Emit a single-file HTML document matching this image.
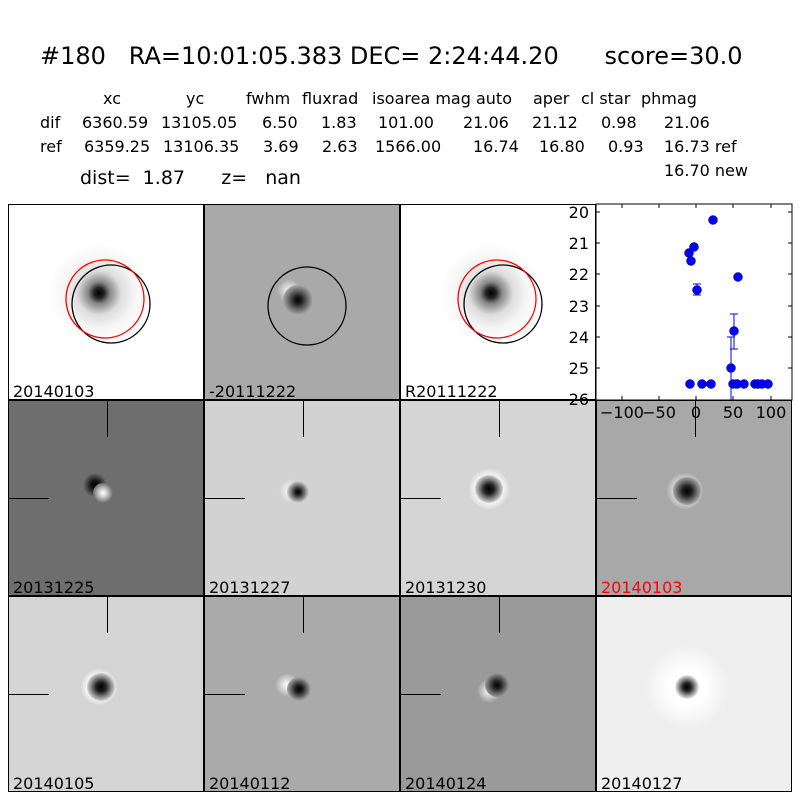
<!DOCTYPE html><html><head><style>
body{margin:0;width:800px;height:800px;background:#fff;font-family:"DejaVu Sans",sans-serif;position:relative;overflow:hidden}
.t{position:absolute;white-space:pre;color:#000;font-size:16px;line-height:18px}
.p{position:absolute;width:196px;height:196px;border:1px solid #000;box-sizing:border-box;overflow:hidden}
.lab{position:absolute;left:4px;bottom:-2px;font-size:16px}
.b{position:absolute;border-radius:50%}
.v{position:absolute;left:98px;top:0;width:1px;height:36px;background:#000}
.h{position:absolute;left:0;top:97px;width:40px;height:1px;background:#000}
</style></head><body>
<div class="t" style="left:40px;top:42px;font-size:24px;line-height:28px">#180   RA=10:01:05.383 DEC= 2:24:44.20      score=30.0</div>
<div class="t" style="left:103px;top:90px">xc</div><div class="t" style="left:186px;top:90px">yc</div><div class="t" style="left:246px;top:90px">fwhm</div><div class="t" style="left:302px;top:90px">fluxrad</div><div class="t" style="left:372px;top:90px">isoarea mag auto</div><div class="t" style="left:533px;top:90px">aper</div><div class="t" style="left:581px;top:90px">cl star</div><div class="t" style="left:641px;top:90px">phmag</div>
<div class="t" style="left:40px;top:114px">dif</div><div class="t" style="left:82px;top:114px">6360.59</div><div class="t" style="left:161px;top:114px">13105.05</div><div class="t" style="left:262px;top:114px">6.50</div><div class="t" style="left:321px;top:114px">1.83</div><div class="t" style="left:378px;top:114px">101.00</div><div class="t" style="left:463px;top:114px">21.06</div><div class="t" style="left:532px;top:114px">21.12</div><div class="t" style="left:601px;top:114px">0.98</div><div class="t" style="left:664px;top:114px">21.06</div>
<div class="t" style="left:40px;top:138px">ref</div><div class="t" style="left:84px;top:138px">6359.25</div><div class="t" style="left:163px;top:138px">13106.35</div><div class="t" style="left:263px;top:138px">3.69</div><div class="t" style="left:322px;top:138px">2.63</div><div class="t" style="left:375px;top:138px">1566.00</div><div class="t" style="left:473px;top:138px">16.74</div><div class="t" style="left:539px;top:138px">16.80</div><div class="t" style="left:608px;top:138px">0.93</div><div class="t" style="left:664px;top:138px">16.73 ref</div>
<div class="t" style="left:664px;top:162px">16.70 new</div>
<div class="t" style="left:80px;top:167px;font-size:19px;line-height:22px">dist=  1.87      z=   nan</div>

<div class="p" style="left:8px;top:204px;background:#fff"><div class="b" style="left:40px;top:38px;width:100px;height:100px;background:radial-gradient(circle,#000 0,#222 5px,#888 11px,#ddd 22px,#f6f6f6 36px,#fff 50px)"></div>
<svg width="196" height="196" style="position:absolute;left:0;top:0"><circle cx="102" cy="99" r="39" fill="none" stroke="#000" stroke-width="1.3"/><circle cx="96" cy="94" r="39" fill="none" stroke="red" stroke-width="1.3"/></svg><div class="lab">20140103</div></div>
<div class="p" style="left:204px;top:204px;background:#a9a9a9"><div class="b" style="left:72px;top:74px;width:24px;height:24px;background:radial-gradient(circle,#fafafa,#a9a9a9 70%)"></div><div class="b" style="left:78px;top:80px;width:30px;height:30px;background:radial-gradient(circle,#000 0,#222 4px,#a9a9a9 15px)"></div>
<svg width="196" height="196" style="position:absolute;left:0;top:0"><circle cx="102" cy="101" r="39" fill="none" stroke="#000" stroke-width="1.3"/></svg><div class="lab">-20111222</div></div>
<div class="p" style="left:400px;top:204px;background:#fff"><div class="b" style="left:40px;top:38px;width:100px;height:100px;background:radial-gradient(circle,#000 0,#222 5px,#888 11px,#ddd 22px,#f6f6f6 36px,#fff 50px)"></div>
<svg width="196" height="196" style="position:absolute;left:0;top:0"><circle cx="102" cy="99" r="39" fill="none" stroke="#000" stroke-width="1.3"/><circle cx="96" cy="94" r="39" fill="none" stroke="red" stroke-width="1.3"/></svg><div class="lab">R20111222</div></div>

<div class="p" style="left:8px;top:400px;background:#6e6e6e"><div class="b" style="left:74px;top:72px;width:24px;height:24px;background:radial-gradient(circle,#000 0,#111 4px,#6e6e6e 12px)"></div><div class="b" style="left:84px;top:82px;width:20px;height:20px;background:radial-gradient(circle,#fff 0,#ddd 3px,#6e6e6e 10px)"></div><div class="v"></div><div class="h"></div><div class="lab">20131225</div></div>
<div class="p" style="left:204px;top:400px;background:#d2d2d2"><div class="b" style="left:74px;top:78px;width:24px;height:24px;background:radial-gradient(circle,#fff,#d2d2d2 70%)"></div><div class="b" style="left:82px;top:80px;width:22px;height:22px;background:radial-gradient(circle,#000 0,#222 3px,#d2d2d2 11px)"></div><div class="v"></div><div class="h"></div><div class="lab">20131227</div></div>
<div class="p" style="left:400px;top:400px;background:#d5d5d5"><div class="b" style="left:68px;top:68px;width:40px;height:40px;background:radial-gradient(circle,#fff 40%,#d5d5d5 75%)"></div><div class="b" style="left:74px;top:74px;width:28px;height:28px;background:radial-gradient(circle,#000 0,#222 5px,#d5d5d5 14px)"></div><div class="v"></div><div class="h"></div><div class="lab">20131230</div></div>
<div class="p" style="left:596px;top:400px;background:#a8a8a8"><div class="b" style="left:70px;top:72px;width:36px;height:36px;background:radial-gradient(circle,#ddd 40%,#a8a8a8 75%)"></div><div class="b" style="left:76px;top:76px;width:28px;height:28px;background:radial-gradient(circle,#000 0,#222 5px,#a8a8a8 14px)"></div><div class="v"></div><div class="h"></div><div class="lab" style="color:red">20140103</div></div>

<div class="p" style="left:8px;top:596px;background:#d4d4d4"><div class="b" style="left:72px;top:72px;width:36px;height:36px;background:radial-gradient(circle,#fff 40%,#d4d4d4 75%)"></div><div class="b" style="left:78px;top:76px;width:28px;height:28px;background:radial-gradient(circle,#000 0,#222 5px,#d4d4d4 14px)"></div><div class="v"></div><div class="h"></div><div class="lab">20140105</div></div>
<div class="p" style="left:204px;top:596px;background:#aaaaaa"><div class="b" style="left:70px;top:76px;width:24px;height:24px;background:radial-gradient(circle,#fff,#aaa 70%)"></div><div class="b" style="left:82px;top:80px;width:24px;height:24px;background:radial-gradient(circle,#000 0,#222 4px,#aaa 12px)"></div><div class="v"></div><div class="h"></div><div class="lab">20140112</div></div>
<div class="p" style="left:400px;top:596px;background:#9a9a9a"><div class="b" style="left:76px;top:82px;width:24px;height:24px;background:radial-gradient(circle,#fff,#9a9a9a 70%)"></div><div class="b" style="left:84px;top:76px;width:24px;height:24px;background:radial-gradient(circle,#000 0,#222 4px,#9a9a9a 12px)"></div><div class="v"></div><div class="h"></div><div class="lab">20140124</div></div>
<div class="p" style="left:596px;top:596px;background:#efefef"><div class="b" style="left:48px;top:48px;width:84px;height:84px;background:radial-gradient(circle,#fff 30%,#efefef 70%)"></div><div class="b" style="left:78px;top:78px;width:24px;height:24px;background:radial-gradient(circle,#000 0,#222 4px,#efefef 12px)"></div><div class="lab">20140127</div></div>

<svg width="800" height="800" style="position:absolute;left:0;top:0">
<rect x="596" y="204" width="196" height="196" fill="#fff" stroke="#000"/>
<g stroke="#000"><line x1="596" y1="212" x2="600" y2="212"/><line x1="596" y1="243" x2="600" y2="243"/><line x1="596" y1="274" x2="600" y2="274"/><line x1="596" y1="306" x2="600" y2="306"/><line x1="596" y1="337" x2="600" y2="337"/><line x1="596" y1="368" x2="600" y2="368"/>
<line x1="788" y1="212" x2="792" y2="212"/><line x1="788" y1="243" x2="792" y2="243"/><line x1="788" y1="274" x2="792" y2="274"/><line x1="788" y1="306" x2="792" y2="306"/><line x1="788" y1="337" x2="792" y2="337"/><line x1="788" y1="368" x2="792" y2="368"/>
<line x1="622" y1="204" x2="622" y2="208"/><line x1="659" y1="204" x2="659" y2="208"/><line x1="696" y1="204" x2="696" y2="208"/><line x1="733" y1="204" x2="733" y2="208"/><line x1="771" y1="204" x2="771" y2="208"/>
<line x1="622" y1="396" x2="622" y2="400"/><line x1="659" y1="396" x2="659" y2="400"/><line x1="696" y1="396" x2="696" y2="400"/><line x1="733" y1="396" x2="733" y2="400"/><line x1="771" y1="396" x2="771" y2="400"/></g>
<g stroke="#00f" stroke-width="1"><line x1="734" y1="314" x2="734" y2="349"/><line x1="730" y1="314" x2="738" y2="314"/><line x1="730" y1="349" x2="738" y2="349"/><line x1="731" y1="337" x2="731" y2="400"/><line x1="727" y1="337" x2="735" y2="337"/><line x1="697" y1="284" x2="697" y2="295"/><line x1="693" y1="284" x2="701" y2="284"/><line x1="693" y1="295" x2="701" y2="295"/></g>
<g fill="#00f" stroke="#006" stroke-width="0.5">
<circle cx="690" cy="384" r="4.5"/><circle cx="702" cy="384" r="4.5"/><circle cx="711" cy="384" r="4.5"/><circle cx="689" cy="253" r="4.5"/><circle cx="691" cy="261" r="4.5"/><circle cx="694" cy="247" r="4.5"/><circle cx="697" cy="290" r="4.5"/><circle cx="713" cy="220" r="4.5"/><circle cx="731" cy="368" r="4.5"/><circle cx="734" cy="331" r="4.5"/><circle cx="733" cy="384" r="4.5"/><circle cx="737" cy="384" r="4.5"/><circle cx="738" cy="277" r="4.5"/><circle cx="744" cy="384" r="4.5"/><circle cx="755" cy="384" r="4.5"/><circle cx="758" cy="384" r="4.5"/><circle cx="762" cy="384" r="4.5"/><circle cx="768" cy="384" r="4.5"/></g>
<g font-size="16" text-anchor="end" font-family="DejaVu Sans,sans-serif"><text x="589" y="218">20</text><text x="589" y="249">21</text><text x="589" y="280">22</text><text x="589" y="312">23</text><text x="589" y="343">24</text><text x="589" y="374">25</text><text x="589" y="405">26</text></g>
<g font-size="16" text-anchor="middle" font-family="DejaVu Sans,sans-serif"><text x="622" y="418">−100</text><text x="659" y="418">−50</text><text x="696" y="418">0</text><text x="733" y="418">50</text><text x="771" y="418">100</text></g>
</svg>
</body></html>
